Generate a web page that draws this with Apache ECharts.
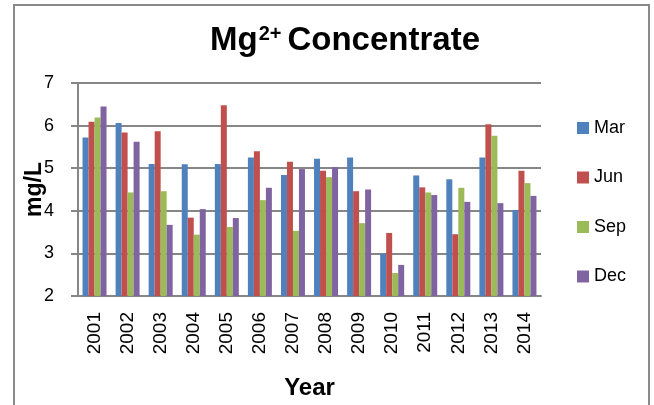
<!DOCTYPE html>
<html>
<head>
<meta charset="utf-8">
<script src="https://cdn.jsdelivr.net/npm/echarts@6/dist/echarts.min.js"></script>
<style>
html,body{margin:0;padding:0;background:#fff;}
#c{width:654px;height:405px;}
</style>
</head>
<body>
<div id="c"></div>
<script>
const years = ['2001','2002','2003','2004','2005','2006','2007','2008','2009','2010','2011','2012','2013','2014'];
const seriesNames = ['Mar','Jun','Sep','Dec'];
const mar = [5.72, 6.06, 5.10, 5.09, 5.10, 5.25, 4.84, 5.22, 5.25, 2.99, 4.83, 4.74, 5.25, 4.02];
const jun = [6.09, 5.84, 5.87, 3.84, 6.48, 5.40, 5.15, 4.94, 4.46, 3.48, 4.55, 3.45, 6.03, 4.94];
const sep = [6.19, 4.43, 4.46, 3.44, 3.62, 4.25, 3.53, 4.79, 3.71, 2.54, 4.43, 4.54, 5.76, 4.65];
const dec = [6.45, 5.62, 3.67, 4.04, 3.83, 4.54, 4.98, 5.03, 4.50, 2.73, 4.37, 4.21, 4.18, 4.35];
const yTicks = [2, 3, 4, 5, 6, 7];

const colors = ['#4F81BD', '#C0504D', '#9BBB59', '#8064A2'];
const values = [mar, jun, sep, dec];
const font = 'Liberation Sans, Arial, sans-serif';

const chart = echarts.init(document.getElementById('c'), null, {renderer: 'canvas'});
chart.setOption({
  animation: false,
  backgroundColor: '#fff',
  color: colors,
  graphic: [{
    type: 'rect',
    shape: {x: 14, y: 5, width: 635, height: 420},
    style: {fill: 'none', stroke: '#8a8a8a', lineWidth: 2},
    silent: true
  }],
  title: {
    text: '{a|Mg}{b|2+}{a|Concentrate}',
    left: 340,
    top: 19,
    textAlign: 'center',
    textStyle: {
      rich: {
        a: {fontFamily: font, fontWeight: 'bold', fontSize: 33, color: '#000'},
        b: {fontFamily: font, fontWeight: 'bold', fontSize: 20, color: '#000', verticalAlign: 'top', padding: [0, 6, 0, 1]}
      }
    }
  },
  legend: {
    orient: 'vertical',
    left: 577,
    top: 119,
    padding: 0,
    itemWidth: 12,
    itemHeight: 12,
    itemGap: 31.5,
    icon: 'rect',
    textStyle: {fontFamily: font, fontSize: 18, color: '#000'},
    data: seriesNames
  },
  grid: {left: 78, right: 113, top: 83, bottom: 109, containLabel: false},
  xAxis: {
    type: 'category',
    data: years,
    name: 'Year',
    nameLocation: 'middle',
    nameGap: 80,
    nameTextStyle: {fontFamily: font, fontWeight: 'bold', fontSize: 24, color: '#000'},
    axisLine: {lineStyle: {color: '#868686', width: 2}},
    axisTick: {show: false},
    axisLabel: {rotate: 90, margin: 16, fontFamily: font, fontSize: 19, color: '#000'}
  },
  yAxis: {
    type: 'value',
    min: 2,
    max: 7,
    interval: 1,
    name: 'mg/L',
    nameLocation: 'middle',
    nameRotate: 90,
    nameGap: 32,
    nameMoveOverlap: false,
    nameTextStyle: {fontFamily: font, fontWeight: 'bold', fontSize: 23, color: '#000'},
    axisLine: {show: true, lineStyle: {color: '#868686', width: 2}},
    axisTick: {show: true, inside: false, length: 7, lineStyle: {color: '#868686', width: 2}},
    axisLabel: {margin: 24, fontFamily: font, fontSize: 18, color: '#000',
      formatter: v => yTicks.includes(v) ? String(v) : ''},
    splitLine: {lineStyle: {color: '#868686', width: 2}}
  },
  series: seriesNames.map((n, i) => ({
    name: n,
    type: 'bar',
    data: values[i],
    barWidth: 6,
    barGap: '0%',
    itemStyle: {color: colors[i]}
  }))
});
</script>
</body>
</html>
